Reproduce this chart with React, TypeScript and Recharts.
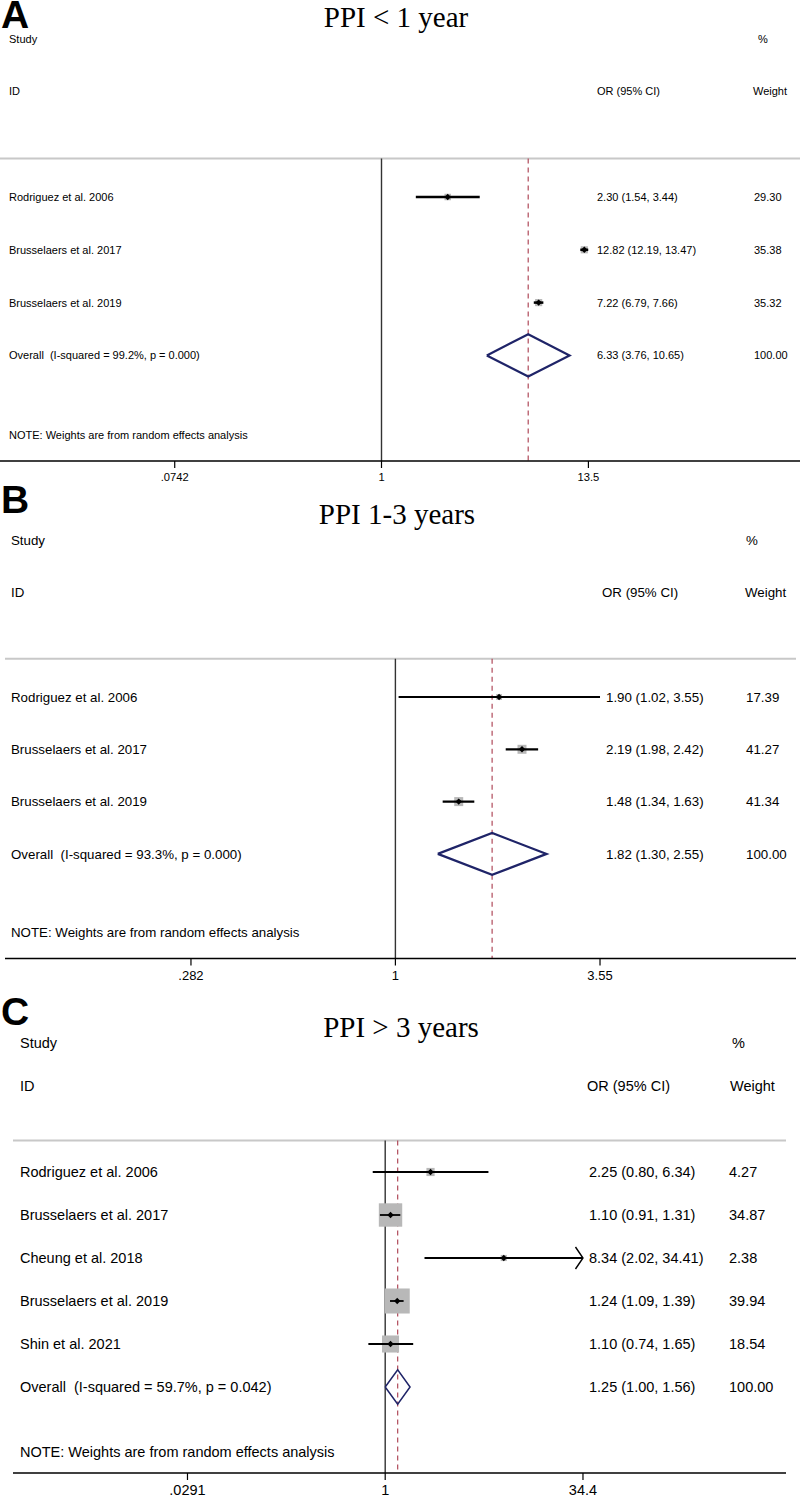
import React from "react";
import { ComposedChart, Scatter, XAxis, YAxis, ReferenceLine } from "recharts";

// Panel A: PPI < 1 year
const studiesA = ["Rodriguez et al. 2006", "Brusselaers et al. 2017", "Brusselaers et al. 2019"];
const orA = [2.3, 12.82, 7.22];
const loA = [1.54, 12.19, 6.79];
const hiA = [3.44, 13.47, 7.66];
const weightA = [29.3, 35.38, 35.32];
const overallA = [6.33, 3.76, 10.65]; // OR, lower, upper
const hetA = ["99.2%", "0.000"]; // I-squared, p
const ticksA = [0.0742, 1, 13.5];
const tickLabelsA = [".0742", "1", "13.5"];

// Panel B: PPI 1-3 years
const studiesB = ["Rodriguez et al. 2006", "Brusselaers et al. 2017", "Brusselaers et al. 2019"];
const orB = [1.9, 2.19, 1.48];
const loB = [1.02, 1.98, 1.34];
const hiB = [3.55, 2.42, 1.63];
const weightB = [17.39, 41.27, 41.34];
const overallB = [1.82, 1.3, 2.55];
const hetB = ["93.3%", "0.000"];
const ticksB = [0.282, 1, 3.55];
const tickLabelsB = [".282", "1", "3.55"];

// Panel C: PPI > 3 years
const studiesC = [
  "Rodriguez et al. 2006",
  "Brusselaers et al. 2017",
  "Cheung et al. 2018",
  "Brusselaers et al. 2019",
  "Shin et al. 2021",
];
const orC = [2.25, 1.1, 8.34, 1.24, 1.1];
const loC = [0.8, 0.91, 2.02, 1.09, 0.74];
const hiC = [6.34, 1.31, 34.41, 1.39, 1.65];
const weightC = [4.27, 34.87, 2.38, 39.94, 18.54];
const overallC = [1.25, 1.0, 1.56];
const hetC = ["59.7%", "0.042"];
const ticksC = [0.0291, 1, 34.4];
const tickLabelsC = [".0291", "1", "34.4"];

const SANS = "'Liberation Sans', Arial, sans-serif";
const SERIF = "'Liberation Serif', 'Times New Roman', serif";

type Geo = {
  top: number;
  firstRowPx: number;
  rowPx: number;
  nullPx: number;
  pxPerLn: number;
  plotLeft: number;
  plotRight: number;
  fs: number;
  tickFs: number;
  studyX: number;
  orX: number;
  orHX: number;
  weightX: number;
  weightHX: number;
  pctX: number;
  boxK: number;
  lineW: number;
  diamondW: number;
  axisH: number;
};

const geoA: Geo = {
  top: 0, firstRowPx: 197, rowPx: 52.8, nullPx: 381.5, pxPerLn: 79.5,
  plotLeft: 0, plotRight: 800, fs: 11, tickFs: 11.2,
  studyX: 9, orX: 597, orHX: 597, weightX: 754, weightHX: 753, pctX: 758,
  boxK: 1.2, lineW: 2.5, diamondW: 2.2, axisH: 30,
};
const geoB: Geo = {
  top: 525, firstRowPx: 697, rowPx: 52.3, nullPx: 395.4, pxPerLn: 161.5,
  plotLeft: 5, plotRight: 796, fs: 13.3, tickFs: 13,
  studyX: 11, orX: 606, orHX: 602, weightX: 746, weightHX: 745, pctX: 746,
  boxK: 1.4, lineW: 2.2, diamondW: 2.2, axisH: 30,
};
const geoC: Geo = {
  top: 1030, firstRowPx: 1172, rowPx: 43, nullPx: 385.2, pxPerLn: 55.9,
  plotLeft: 13, plotRight: 786, fs: 14.5, tickFs: 14.5,
  studyX: 20, orX: 589, orHX: 587, weightX: 729, weightHX: 730, pctX: 732,
  boxK: 3.96, lineW: 1.8, diamondW: 1.5, axisH: 24,
};

const fmt = (v: number) => v.toFixed(2);

type PanelProps = {
  studies: string[];
  or: number[];
  lo: number[];
  hi: number[];
  weight: number[];
  overall: number[];
  het: string[];
  ticks: number[];
  tickLabels: string[];
  g: Geo;
};

function ForestPanel({ studies, or, lo, hi, weight, overall, het, ticks, tickLabels, g }: PanelProps) {
  const n = studies.length;
  const overallRow = n + 1;
  const noteRow = overallRow + 1.5;
  const axisRow = overallRow + 2;
  const topRow = 1 - (g.firstRowPx - g.top) / g.rowPx;
  const sepRow = 0.27;
  const plotH = (axisRow - topRow) * g.rowPx;
  const dMin = Math.exp((g.plotLeft - g.nullPx) / g.pxPerLn);
  const dMax = Math.exp((g.plotRight - g.nullPx) / g.pxPerLn);
  const clip = ticks[ticks.length - 1];

  const rows = studies.map((s, i) => ({
    x: or[i],
    y: i + 1,
    lo: lo[i],
    hi: Math.min(hi[i], clip),
    arrow: hi[i] > clip,
    w: weight[i],
  }));

  const diamondH = 0.4;
  const diamond = [
    { x: overall[1], y: overallRow },
    { x: overall[0], y: overallRow - diamondH },
    { x: overall[2], y: overallRow },
    { x: overall[0], y: overallRow + diamondH },
    { x: overall[1], y: overallRow },
  ];

  const leftCol = [
    { x: 1, y: -2, label: "Study" },
    { x: 1, y: -1, label: "ID" },
    ...studies.map((s, i) => ({ x: 1, y: i + 1, label: s })),
    { x: 1, y: overallRow, label: `Overall  (I-squared = ${het[0]}, p = ${het[1]})` },
    { x: 1, y: noteRow, label: "NOTE: Weights are from random effects analysis" },
  ];
  const orCol = [
    ...studies.map((s, i) => ({ x: 1, y: i + 1, label: `${fmt(or[i])} (${fmt(lo[i])}, ${fmt(hi[i])})` })),
    { x: 1, y: overallRow, label: `${fmt(overall[0])} (${fmt(overall[1])}, ${fmt(overall[2])})` },
  ];
  const wCol = [
    ...studies.map((s, i) => ({ x: 1, y: i + 1, label: fmt(weight[i]) })),
    { x: 1, y: overallRow, label: "100.00" },
  ];

  const textAt = (colX: number) => (p: any) => (
    <text
      x={colX}
      y={p.cy}
      dy="0.36em"
      fontSize={g.fs}
      fontFamily={SANS}
      fill="#000"
      style={{ whiteSpace: "pre" }}
    >
      {p.payload.label}
    </text>
  );

  return (
    <div style={{ position: "absolute", left: 0, top: g.top }}>
      <ComposedChart
        width={800}
        height={plotH + g.axisH}
        margin={{ top: 0, right: 800 - g.plotRight, left: g.plotLeft, bottom: 0 }}
      >
        <XAxis
          type="number"
          dataKey="x"
          scale="log"
          domain={[dMin, dMax]}
          allowDataOverflow
          ticks={ticks}
          interval={0}
          tickFormatter={(v: number) => tickLabels[ticks.indexOf(v)] ?? String(v)}
          tickSize={7}
          tickMargin={5}
          height={g.axisH}
          axisLine={{ stroke: "#000", strokeWidth: 1.5 }}
          tickLine={{ stroke: "#000", strokeWidth: 1.2 }}
          tick={{ fontSize: g.tickFs, fill: "#000", fontFamily: SANS }}
        />
        <YAxis type="number" dataKey="y" domain={[topRow, axisRow]} reversed hide allowDataOverflow />
        <ReferenceLine y={sepRow} stroke="#c8c8c8" strokeWidth={2} />
        <ReferenceLine
          segment={[{ x: 1, y: sepRow }, { x: 1, y: axisRow }]}
          stroke="#333"
          strokeWidth={1.4}
        />
        <ReferenceLine
          segment={[{ x: overall[0], y: sepRow }, { x: overall[0], y: axisRow }]}
          stroke="#b04a5a"
          strokeWidth={1.2}
          strokeDasharray="5 4"
        />
        {/* weight boxes */}
        <Scatter
          data={rows}
          isAnimationActive={false}
          shape={(p: any) => {
            const s = g.boxK * Math.sqrt(p.payload.w);
            return <rect x={p.cx - s / 2} y={p.cy - s / 2} width={s} height={s} fill="#b8b8b8" />;
          }}
        />
        {/* confidence intervals */}
        {rows.map((r, i) => (
          <Scatter
            key={"ci" + i}
            data={[{ x: r.lo, y: r.y }, { x: r.hi, y: r.y }]}
            isAnimationActive={false}
            line={{ stroke: "#000", strokeWidth: g.lineW }}
            shape={() => <g />}
          />
        ))}
        <Scatter
          data={rows.filter((r) => r.arrow).map((r) => ({ x: r.hi, y: r.y }))}
          isAnimationActive={false}
          shape={(p: any) => (
            <path
              d={`M${p.cx - 7.5},${p.cy - 11} L${p.cx},${p.cy} L${p.cx - 7.5},${p.cy + 11}`}
              stroke="#000"
              strokeWidth={1.4}
              fill="none"
            />
          )}
        />
        {/* point estimates */}
        <Scatter
          data={rows}
          isAnimationActive={false}
          shape={(p: any) => (
            <path
              d={`M${p.cx - 3.2},${p.cy} L${p.cx},${p.cy - 3.2} L${p.cx + 3.2},${p.cy} L${p.cx},${p.cy + 3.2} Z`}
              fill="#000"
            />
          )}
        />
        {/* overall diamond */}
        <Scatter
          data={diamond}
          isAnimationActive={false}
          line={{ stroke: "#1f2468", strokeWidth: g.diamondW }}
          shape={() => <g />}
        />
        {/* table text */}
        <Scatter data={leftCol} isAnimationActive={false} shape={textAt(g.studyX)} />
        <Scatter data={orCol} isAnimationActive={false} shape={textAt(g.orX)} />
        <Scatter data={wCol} isAnimationActive={false} shape={textAt(g.weightX)} />
        <Scatter data={[{ x: 1, y: -1, label: "OR (95% CI)" }]} isAnimationActive={false} shape={textAt(g.orHX)} />
        <Scatter data={[{ x: 1, y: -1, label: "Weight" }]} isAnimationActive={false} shape={textAt(g.weightHX)} />
        <Scatter data={[{ x: 1, y: -2, label: "%" }]} isAnimationActive={false} shape={textAt(g.pctX)} />
      </ComposedChart>
    </div>
  );
}

const headings = [
  { letter: "A", title: "PPI < 1 year", letterY: 28, titleY: 27, titleX: 396 },
  { letter: "B", title: "PPI 1-3 years", letterY: 513, titleY: 524, titleX: 397 },
  { letter: "C", title: "PPI > 3 years", letterY: 1025, titleY: 1037, titleX: 401 },
];

export default function App() {
  return (
    <div
      style={{
        position: "absolute",
        left: 0,
        top: 0,
        width: 800,
        height: 1497,
        background: "#fff",
        overflow: "hidden",
      }}
    >
      <ForestPanel
        studies={studiesA} or={orA} lo={loA} hi={hiA} weight={weightA}
        overall={overallA} het={hetA} ticks={ticksA} tickLabels={tickLabelsA} g={geoA}
      />
      <ForestPanel
        studies={studiesB} or={orB} lo={loB} hi={hiB} weight={weightB}
        overall={overallB} het={hetB} ticks={ticksB} tickLabels={tickLabelsB} g={geoB}
      />
      <ForestPanel
        studies={studiesC} or={orC} lo={loC} hi={hiC} weight={weightC}
        overall={overallC} het={hetC} ticks={ticksC} tickLabels={tickLabelsC} g={geoC}
      />
      <svg
        width={800}
        height={1497}
        style={{ position: "absolute", left: 0, top: 0, pointerEvents: "none" }}
      >
        {headings.map((h) => (
          <g key={h.letter}>
            <text x={1} y={h.letterY} fontSize={39} fontWeight="bold" fontFamily={SANS} fill="#000">
              {h.letter}
            </text>
            <text x={h.titleX} y={h.titleY} fontSize={29} fontFamily={SERIF} textAnchor="middle" fill="#000">
              {h.title}
            </text>
          </g>
        ))}
      </svg>
    </div>
  );
}
